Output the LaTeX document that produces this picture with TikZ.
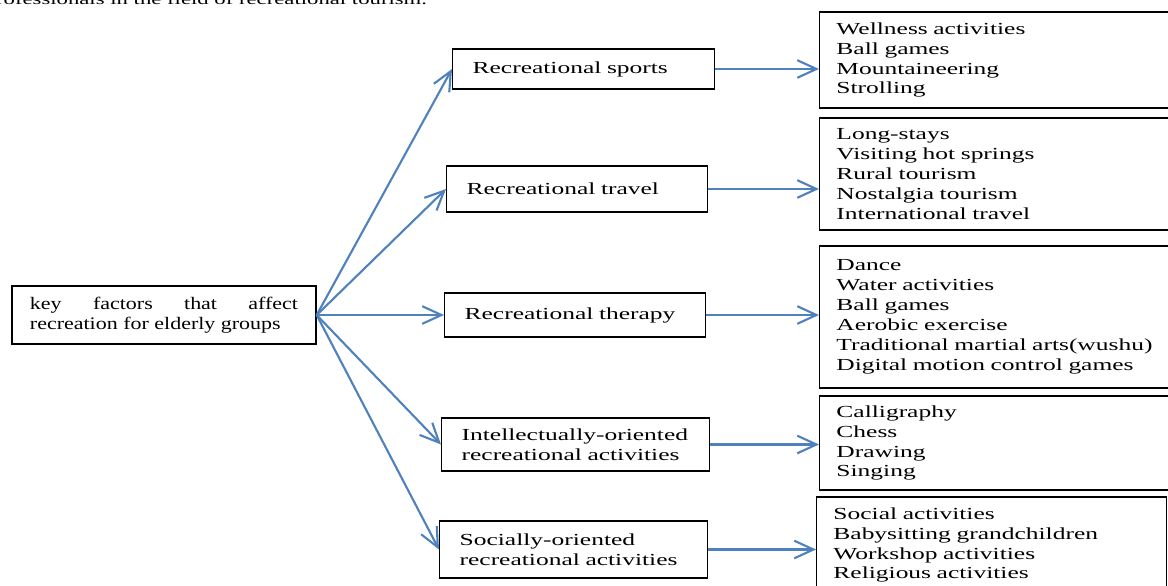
\documentclass[tikz,border=0pt]{standalone}
\usepackage{fontspec}
\setmainfont{Liberation Serif}[FakeStretch=1.51]
\newfontfamily\rootfont{Liberation Serif}[FakeStretch=1.25]
\usetikzlibrary{arrows.meta,positioning}
\definecolor{arrowblue}{RGB}{79,129,189}

\begin{document}
\begin{tikzpicture}[x=0.025cm,y=-0.025cm,
	factorbox/.style={draw, line width=0.9pt, anchor=west, align=left, inner xsep=0.5cm, inner ysep=0pt, font=\fontsize{12pt}{14.6pt}\selectfont},
	listbox/.style={draw, line width=0.9pt, anchor=west, align=left, inner xsep=0.42cm, inner ysep=0pt, text width=7.91cm, minimum width=8.75cm, font=\fontsize{12pt}{14.2pt}\selectfont},
	link/.style={draw=arrowblue, line width=1.5pt, -{Straight Barb[length=0.48cm,width=0.44cm,line width=1.5pt]}}]
	\useasboundingbox (0,0) rectangle (1168,585);
	\node[anchor=base east, font=\fontsize{10.7pt}{12pt}\selectfont] (intro) at (432,4) {professionals in the field of recreational tourism.};
	% root
	\node[draw, line width=0.9pt, text width=6.7cm, inner xsep=0.45cm, minimum height=1.45cm, align=justify, font=\rootfont\fontsize{12.5pt}{14.2pt}\selectfont] (root) at (164,315) {key factors that affect\linebreak recreation for elderly groups};
	% factors
	\node[factorbox, text width=5.55cm, minimum height=1.0cm] (sports) at (452,69) {Recreational sports};
	\node[factorbox, text width=5.525cm, minimum height=1.15cm] (travel) at (446,189) {Recreational travel};
	\node[factorbox, text width=5.525cm, minimum height=1.1cm] (therapy) at (444,315) {Recreational therapy};
	\node[factorbox, text width=5.7cm, minimum height=1.325cm] (intellect) at (441,444.5) {Intellectually-oriented\\recreational activities};
	\node[factorbox, text width=5.7cm, minimum height=1.425cm] (social) at (439,549.5) {Socially-oriented\\recreational activities};
	% lists
	\node[listbox, minimum height=2.4cm] (sportsList) at (819,60) {Wellness activities\\Ball games\\Mountaineering\\Strolling};
	\node[listbox, minimum height=2.8cm] (travelList) at (819,174) {Long-stays\\Visiting hot springs\\Rural tourism\\Nostalgia tourism\\International travel};
	\node[listbox, minimum height=3.55cm] (therapyList) at (819,317) {Dance\\Water activities\\Ball games\\Aerobic exercise\\Traditional martial arts(wushu)\\Digital motion control games};
	\node[listbox, minimum height=2.35cm] (intellectList) at (819,443) {Calligraphy\\Chess\\Drawing\\Singing};
	\node[listbox, minimum height=2.4cm] (socialList) at (816,545) {Social activities\\Babysitting grandchildren\\Workshop activities\\Religious activities};
	% arrows
	\foreach \f in {sports,travel,therapy,intellect,social}{
		\draw[link] (root.east) -- (\f.west);
		\draw[link] (\f.east) -- (\f.east -| \f List.west);
	}
\end{tikzpicture}
\end{document}
